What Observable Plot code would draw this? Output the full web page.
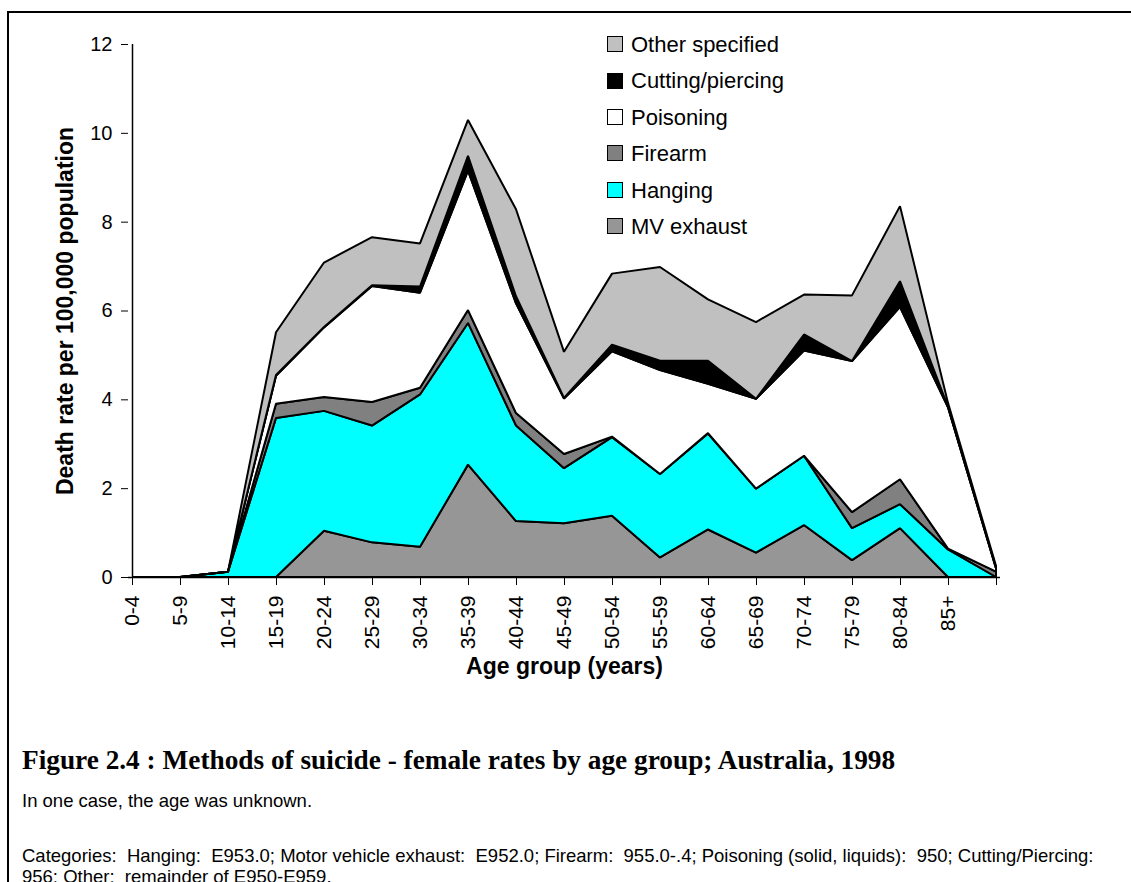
<!DOCTYPE html>
<html>
<head>
<meta charset="utf-8">
<script src="https://cdn.jsdelivr.net/npm/d3@7"></script>
<script src="https://cdn.jsdelivr.net/npm/@observablehq/plot@0.6"></script>
<style>
  html, body { margin: 0; padding: 0; background: #fff; overflow: hidden; }
  #page { position: relative; width: 1131px; height: 882px; font-family: "Liberation Sans", Arial, sans-serif; }
  #frame { position: absolute; left: 7px; top: 11px; width: 1300px; height: 1000px; border-left: 2px solid #000; border-top: 2px solid #000; }
  #chart { position: absolute; left: 0; top: 0; }
  #legend { position: absolute; left: 607px; top: 0; }
  .item { position: absolute; left: 0; white-space: nowrap; font-size: 22px; line-height: 26px; color: #000; }
  .sw { display: inline-block; width: 14px; height: 14px; border: 1px solid #000; vertical-align: middle; margin-right: 8px; position: relative; top: -2px; }
  #title { position: absolute; left: 22px; top: 744px; font-family: "Liberation Serif", "Times New Roman", serif; font-weight: bold; font-size: 27.3px; line-height: 32px; white-space: nowrap; }
  .note { position: absolute; left: 22px; font-size: 18.5px; line-height: 21px; white-space: pre; }
</style>
</head>
<body>
<div id="page">
  <div id="frame"></div>
  <div id="chart"></div>
  <div id="legend"></div>
  <div id="title">Figure 2.4 : Methods of suicide - female rates by age group; Australia, 1998</div>
  <div class="note" style="top:790px">In one case, the age was unknown.</div>
  <div class="note" style="top:845px">Categories:  Hanging:  E953.0; Motor vehicle exhaust:  E952.0; Firearm:  955.0-.4; Poisoning (solid, liquids):  950; Cutting/Piercing:
956; Other:  remainder of E950-E959.</div>
</div>
<script>
// Age groups (last position is an unlabelled category)
const ageGroups = ["0-4","5-9","10-14","15-19","20-24","25-29","30-34","35-39","40-44","45-49","50-54","55-59","60-64","65-69","70-74","75-79","80-84","85+",""];

// Death rates per 100,000 population by method (stacked bottom to top)
const mvExhaust = [0,0,0,0,1.04,0.78,0.68,2.53,1.26,1.21,1.38,0.44,1.07,0.55,1.17,0.38,1.10,0,0];
const hanging   = [0,0,0.12,3.58,2.70,2.63,3.43,3.19,2.15,1.24,1.77,1.88,2.16,1.44,1.56,0.72,0.54,0.62,0];
const firearm   = [0,0,0,0.32,0.31,0.53,0.15,0.29,0.28,0.32,0.01,0,0.01,0,0,0.36,0.56,0.02,0.12];
const poisoning = [0,0,0,0.63,1.57,2.61,2.14,3.14,2.47,1.25,1.92,2.34,1.11,2.02,2.37,3.40,3.88,3.18,0.08];
const cutting   = [0,0,0,0.02,0.01,0.02,0.14,0.33,0.16,0.01,0.15,0.21,0.52,0,0.36,0,0.58,0.01,0];
const other     = [0,0,0,0.96,1.45,1.08,0.97,0.81,1.96,1.04,1.60,2.11,1.38,1.73,0.90,1.48,1.69,0.09,0.05];

const methods = ["MV exhaust","Hanging","Firearm","Poisoning","Cutting/piercing","Other specified"];
const methodValues = [mvExhaust, hanging, firearm, poisoning, cutting, other];
const methodColors = ["#969696","#00ffff","#808080","#ffffff","#000000","#c0c0c0"];
const legendOrder = ["Other specified","Cutting/piercing","Poisoning","Firearm","Hanging","MV exhaust"];
const yTicks = [0,2,4,6,8,10,12];

const rows = [];
methods.forEach((m, j) => {
  ageGroups.forEach((a, i) => rows.push({age: a, method: m, rate: methodValues[j][i]}));
});

const chart = Plot.plot({
  width: 1131,
  height: 700,
  marginLeft: 128,
  marginRight: 131,
  marginTop: 44,
  marginBottom: 123,
  style: {fontFamily: "'Liberation Sans', Arial, sans-serif", color: "#000", background: "transparent"},
  x: {type: "point", domain: ageGroups, padding: 0},
  y: {domain: [0, 12]},
  color: {domain: methods, range: methodColors},
  marks: [
    Plot.areaY(rows, {x: "age", y: "rate", z: "method", fill: "method", order: methods,
      stroke: "#000", strokeWidth: 2, strokeLinejoin: "miter"}),
    Plot.ruleY([0], {stroke: "#000", strokeWidth: 1.5}),
    Plot.ruleX([ageGroups[0]], {y1: 0, y2: 12, stroke: "#000", strokeWidth: 1.5}),
    Plot.axisY({ticks: yTicks, tickSize: 7, tickPadding: 9, fontSize: 20, label: null}),
    Plot.axisX({tickSize: 8, tickPadding: 10, tickRotate: -90, fontSize: 21, label: null}),
    Plot.text(["Age group (years)"], {frameAnchor: "bottom", dy: 96, fontSize: 23, fontWeight: "bold"}),
    Plot.text(["Death rate per 100,000 population"], {frameAnchor: "left", textAnchor: "middle", dx: -63, rotate: -90, fontSize: 23, fontWeight: "bold"})
  ]
});
document.getElementById("chart").appendChild(chart);

const legend = document.getElementById("legend");
legendOrder.forEach((m, i) => {
  const d = document.createElement("div");
  d.className = "item";
  d.style.top = (45 + i * 36.4 - 13) + "px";
  const sw = document.createElement("span");
  sw.className = "sw";
  sw.style.background = methodColors[methods.indexOf(m)];
  d.appendChild(sw);
  d.appendChild(document.createTextNode(m));
  legend.appendChild(d);
});
</script>
</body>
</html>
